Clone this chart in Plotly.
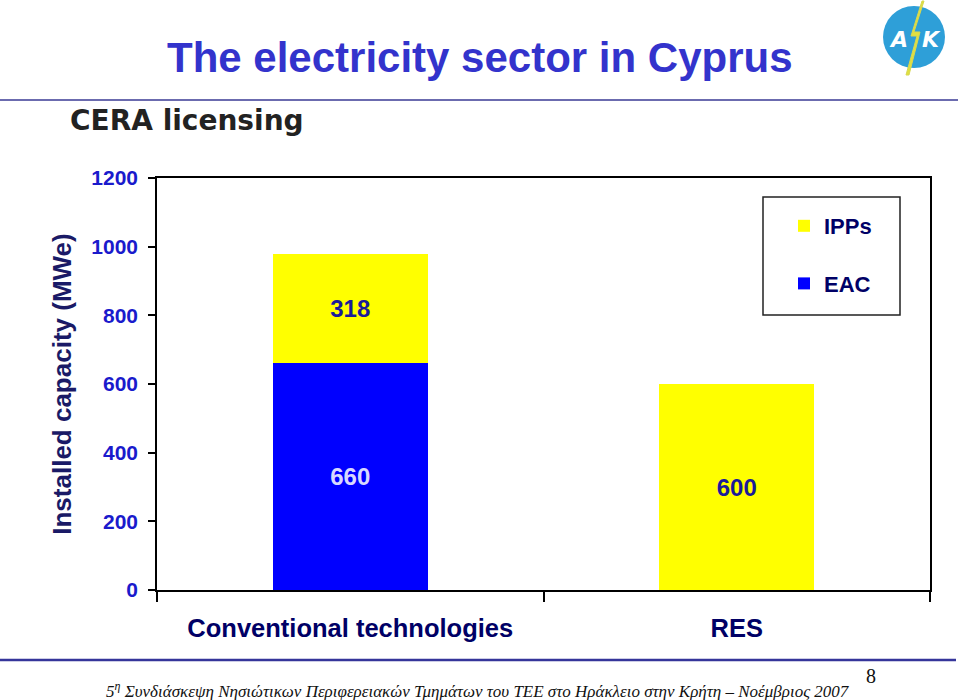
import plotly.graph_objects as go

categories = ["Conventional technologies", "RES"]
eac_values = [660, None]
ipp_values = [318, 600]
y_ticks = [0, 200, 400, 600, 800, 1000, 1200]

W, H = 960, 700
L, R, T, B = 157, 30, 178, 110
PW, PH = W - L - R, H - T - B


def X(px):
    return (px - L) / PW


def Y(py):
    return (H - B - py) / PH


SANS = "Liberation Sans, Arial, sans-serif"
SERIF = "Liberation Serif, Times New Roman, serif"

fig = go.Figure()
fig.add_trace(go.Bar(
    x=categories[:1], y=eac_values[:1], name="EAC", legendgroup="eac", legendrank=2,
    marker=dict(color="#0000ff", line=dict(width=0)),
    text=[str(v) for v in eac_values[:1]],
    textposition="inside", insidetextanchor="middle", constraintext="none",
    textangle=0,
    textfont=dict(family=SANS, size=24, color="#d8d8ff", weight="bold"),
))
fig.add_trace(go.Bar(
    x=categories, y=ipp_values, name="IPPs", legendgroup="ipp", legendrank=1,
    marker=dict(color="#ffff00", line=dict(width=0)),
    text=[str(v) for v in ipp_values],
    textposition="inside", insidetextanchor="middle", constraintext="none",
    textangle=0,
    textfont=dict(family=SANS, size=24, color="#1a1a99", weight="bold"),
))

fig.update_layout(
    width=W, height=H,
    margin=dict(l=L, r=R, t=T, b=B, pad=0),
    paper_bgcolor="white", plot_bgcolor="white",
    barmode="stack", bargap=0.6,
    showlegend=True,
    legend=dict(
        x=X(784), y=Y(205), xanchor="left", yanchor="top",
        traceorder="grouped", tracegroupgap=26,
        bgcolor="rgba(0,0,0,0)", borderwidth=0,
        font=dict(family=SANS, size=22, color="#000066", weight="bold"),
    ),
    xaxis=dict(
        categoryorder="array", categoryarray=categories,
        showline=True, linecolor="black", linewidth=1.5, mirror=True,
        ticks="outside", tickson="boundaries", ticklen=10, tickcolor="black",
        tickwidth=1.5, ticklabelstandoff=15,
        tickfont=dict(family=SANS, size=25.5, color="#000066", weight="bold"),
        showgrid=False,
    ),
    yaxis=dict(
        range=[0, 1200], tickvals=y_ticks,
        showline=True, linecolor="black", linewidth=1.5, mirror=True,
        ticks="outside", ticklen=7, tickcolor="black", tickwidth=1.5,
        ticklabelstandoff=6,
        tickfont=dict(family=SANS, size=21, color="#1a1acc", weight="bold"),
        showgrid=False, zeroline=False,
        title=dict(text="Installed capacity (MWe)", standoff=12,
                   font=dict(family=SANS, size=26, color="#1a1a66", weight="bold")),
    ),
)

shapes = [
    dict(type="rect", xref="paper", yref="paper", x0=X(763), x1=X(900), y0=Y(315), y1=Y(197),
         line=dict(color="#222222", width=1.5), fillcolor="rgba(0,0,0,0)"),
    dict(type="line", xref="paper", yref="paper", x0=X(0), x1=X(958), y0=Y(100), y1=Y(100),
         line=dict(color="#6b6baf", width=2)),
    dict(type="line", xref="paper", yref="paper", x0=X(0), x1=X(956), y0=Y(660), y1=Y(660),
         line=dict(color="#35359a", width=2.5)),
    dict(type="circle", xref="paper", yref="paper", x0=X(883), x1=X(945), y0=Y(68), y1=Y(6),
         line=dict(width=0), fillcolor="#2e9fd8"),
]
bolt = [(922, 1), (911, 36), (917, 36), (906, 75), (909, 75), (920, 32), (914, 32), (924, 1)]
path = "M " + " L ".join(f"{X(a):.5f},{Y(b):.5f}" for a, b in bolt) + " Z"
shapes.append(dict(type="path", xref="paper", yref="paper", path=path,
                   fillcolor="#e0e040", line=dict(color="#d8d850", width=1)))
fig.update_layout(shapes=shapes)

ann = [
    dict(text="The electricity sector in Cyprus", x=X(480), y=Y(58),
         font=dict(family=SANS, size=42, color="#3333cc", weight="bold")),
    dict(text="CERA licensing", x=X(68), y=Y(121), xanchor="left",
         font=dict(family="DejaVu Sans, Verdana, sans-serif", size=28, color="#222222", weight="bold")),
    dict(text="5<sup>η</sup> Συνδιάσκεψη Νησιώτικων Περιφερειακών Τμημάτων του ΤΕΕ στο Ηράκλειο στην Κρήτη – Νοέμβριος 2007",
         x=X(478), y=Y(690),
         font=dict(family=SERIF, size=17, color="#111111", style="italic")),
    dict(text="8", x=X(871), y=Y(676),
         font=dict(family=SERIF, size=20, color="#111111")),
    dict(text="Α", x=X(898), y=Y(39),
         font=dict(family="DejaVu Sans, sans-serif", size=22, color="white", weight="bold", style="italic")),
    dict(text="Κ", x=X(931), y=Y(39),
         font=dict(family="DejaVu Sans, sans-serif", size=22, color="white", weight="bold", style="italic")),
]
for a in ann:
    a.update(xref="paper", yref="paper", showarrow=False)
    a.setdefault("xanchor", "center")
    a.setdefault("yanchor", "middle")
fig.update_layout(annotations=ann)

fig.write_html("out.html")
